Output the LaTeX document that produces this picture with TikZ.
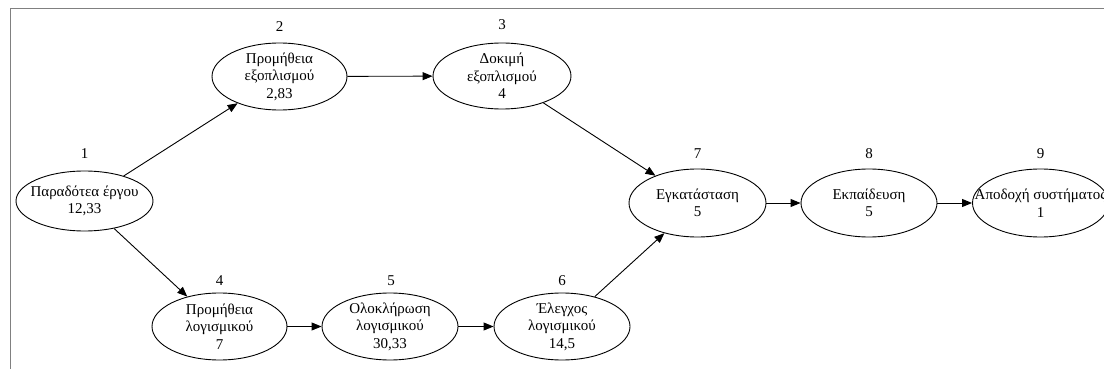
\documentclass[tikz,border=0pt]{standalone}
\usepackage{fontspec}
\setmainfont{Liberation Serif}
\usetikzlibrary{shapes.geometric,arrows.meta}
\definecolor{framegray}{RGB}{128,128,128}
\tikzset{
  task/.style={draw, ellipse, inner xsep=-35pt, inner ysep=-10pt, align=center, font=\fontsize{15}{17.5}\selectfont, line width=0.9pt},
  num/.style={inner sep=0pt, font=\fontsize{15}{17.5}\selectfont},
  flow/.style={line width=0.9pt, -{Triangle[length=10pt,width=8pt]}},
}
\begin{document}
\begin{tikzpicture}[x=1pt,y=-1pt]
\useasboundingbox (0,0) rectangle (1104,369);
\draw[framegray, line width=1pt] (10,369) -- (10,9) -- (1104,9);
\node[task, minimum width=137pt, minimum height=60pt] (n1) at (84.5,201) {Παραδότεα έργου\\12,33};
\node[task, minimum width=135pt, minimum height=67pt] (n2) at (279.5,76.5) {Προμήθεια\\εξοπλισμού\\2,83};
\node[task, minimum width=138pt, minimum height=66pt] (n3) at (502,76) {Δοκιμή\\εξοπλισμού\\4};
\node[task, minimum width=135pt, minimum height=67pt] (n4) at (219.5,326.5) {Προμήθεια\\λογισμικού\\7};
\node[task, minimum width=136pt, minimum height=67pt] (n5) at (390,326.5) {Ολοκλήρωση\\λογισμικού\\30,33};
\node[task, minimum width=136pt, minimum height=67pt] (n6) at (562,326.5) {Έλεγχος\\λογισμικού\\14,5};
\node[task, minimum width=137pt, minimum height=68pt] (n7) at (697.5,203) {Εγκατάσταση\\5};
\node[task, minimum width=136pt, minimum height=68pt] (n8) at (869,203) {Εκπαίδευση\\5};
\node[task, minimum width=136pt, minimum height=68pt] (n9) at (1040.5,203) {Αποδοχή συστήματος\\1};
\node[num] (l1) at (84.5,154) {1};
\node[num] (l2) at (279.5,27) {2};
\node[num] (l3) at (502,25) {3};
\node[num] (l4) at (219.5,281) {4};
\node[num] (l5) at (391,281) {5};
\node[num] (l6) at (562,281) {6};
\node[num] (l7) at (697.5,154) {7};
\node[num] (l8) at (869,154) {8};
\node[num] (l9) at (1040.5,154) {9};
\draw[flow] (n1) -- (n2);
\draw[flow] (n1) -- (n4);
\draw[flow] (n2) -- (n3);
\draw[flow] (n3) -- (n7);
\draw[flow] (n4) -- (n5);
\draw[flow] (n5) -- (n6);
\draw[flow] (n6) -- (n7);
\draw[flow] (n7) -- (n8);
\draw[flow] (n8) -- (n9);
\end{tikzpicture}
\end{document}
